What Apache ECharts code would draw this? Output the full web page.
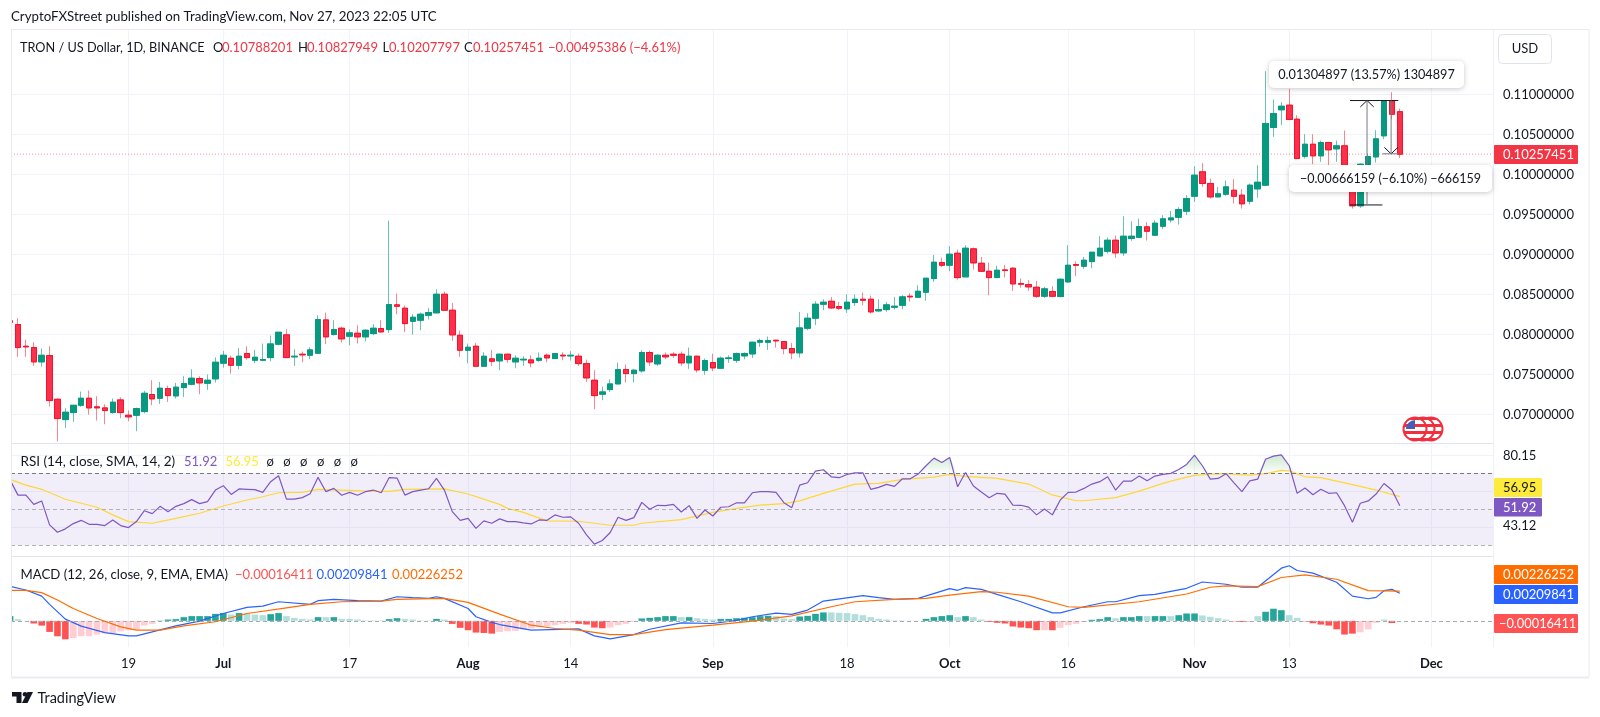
<!DOCTYPE html>
<html>
<head>
<meta charset="utf-8">
<title>TRON / US Dollar</title>
<style>html,body{margin:0;padding:0;background:#fff}#main{width:1600px;height:717px}</style>
<script src="https://cdn.jsdelivr.net/npm/echarts@6/dist/echarts.min.js"></script>
</head>
<body>
<div id="main"></div>
<script>
var myChart = echarts.init(document.getElementById('main'));
var FONT = 'Lato, "Noto Sans", sans-serif';

// one row per day from Jun 4 2023: open, high, low, close, in 1e-5 USD
var ohlc = [
[8173,8173,8156,8156],[8127,8206,7723,7839],[7856,7939,7723,7848],[7839,7906,7610,7660],[7660,7827,7602,7743],
[7739,7856,7102,7177],[7193,7202,6668,6952],[6939,7081,6835,7031],[7027,7118,6910,7118],[7118,7289,7098,7206],
[7206,7302,7002,7085],[7098,7231,6927,7085],[7085,7131,6881,7052],[7027,7202,7014,7156],[7185,7218,6956,7027],
[6993,7052,6918,6973],[6993,7089,6793,7077],[7039,7298,7018,7268],[7252,7431,7118,7198],[7206,7410,7135,7331],
[7327,7364,7160,7239],[7235,7398,7202,7344],[7339,7481,7222,7389],[7381,7568,7368,7456],[7452,7481,7256,7398],
[7393,7502,7310,7431],[7448,7718,7402,7656],[7644,7798,7589,7743],[7706,7739,7514,7618],[7618,7831,7568,7731],
[7764,7856,7689,7714],[7681,7810,7643,7718],[7681,7889,7673,7689],[7714,7989,7668,7885],[7881,8031,7868,8031],
[7998,8068,7710,7714],[7723,7818,7610,7731],[7756,7789,7656,7748],[7743,7843,7693,7810],[7768,8244,7760,8189],
[8185,8277,7881,7973],[8002,8181,7989,8064],[8081,8098,7902,7948],[7981,8068,7868,8023],[8018,8118,7889,7973],
[7973,8068,7918,8056],[8014,8131,7994,8081],[8077,8181,8027,8035],[8064,9427,8023,8377],[8373,8514,8256,8356],
[8331,8364,8031,8139],[8168,8256,8002,8218],[8181,8277,8056,8256],[8243,8335,8189,8277],[8273,8568,8273,8506],
[8506,8539,8298,8306],[8306,8398,7923,7998],[7993,8052,7723,7806],[7806,7889,7643,7843],[7856,7898,7606,7606],
[7606,7781,7602,7731],[7698,7810,7610,7668],[7673,7764,7556,7756],[7756,7764,7648,7693],[7660,7743,7581,7706],
[7685,7731,7610,7693],[7685,7743,7593,7648],[7681,7777,7660,7706],[7743,7764,7656,7710],[7702,7773,7698,7764],
[7743,7781,7681,7735],[7735,7793,7677,7743],[7731,7764,7610,7639],[7639,7689,7410,7460],[7431,7556,7068,7239],
[7256,7352,7181,7285],[7314,7443,7285,7385],[7385,7652,7381,7564],[7564,7627,7402,7514],[7514,7573,7402,7556],
[7548,7806,7527,7777],[7777,7802,7610,7660],[7635,7756,7610,7743],[7743,7777,7693,7723],[7756,7781,7710,7743],
[7756,7789,7610,7648],[7648,7839,7573,7731],[7731,7739,7527,7560],[7556,7702,7498,7677],[7652,7764,7543,7585],
[7581,7727,7577,7706],[7702,7743,7648,7710],[7681,7777,7648,7764],[7735,7781,7693,7764],[7760,7910,7710,7906],
[7906,7952,7848,7927],[7906,7977,7810,7927],[7931,7935,7839,7923],[7914,7923,7756,7827],[7827,7898,7693,7773],
[7773,8285,7714,8085],[8081,8269,8056,8206],[8206,8419,8119,8381],[8381,8443,8306,8406],[8418,8473,8323,8335],
[8352,8410,8306,8331],[8323,8506,8273,8406],[8402,8502,8360,8443],[8443,8527,8368,8431],[8443,8489,8264,8285],
[8298,8443,8285,8314],[8314,8410,8285,8373],[8343,8473,8314,8356],[8368,8493,8318,8473],[8481,8518,8414,8473],
[8468,8618,8468,8543],[8531,8710,8423,8706],[8702,8998,8660,8906],[8902,8964,8843,8868],[8868,9106,8793,9006],
[9018,9064,8689,8714],[8723,9118,8723,9081],[9073,9089,8814,8898],[8893,8973,8785,8793],[8793,8902,8493,8714],
[8714,8864,8714,8806],[8810,8873,8714,8802],[8831,8843,8548,8635],[8639,8702,8589,8631],[8627,8681,8548,8598],
[8593,8673,8460,8481],[8481,8598,8460,8573],[8539,8606,8473,8481],[8477,8702,8468,8693],[8660,9118,8652,8868],
[8877,8918,8731,8868],[8856,8973,8823,8931],[8914,9035,8831,9031],[8985,9231,8977,9081],[9043,9214,9014,9181],
[9181,9239,8960,9023],[9023,9481,8985,9231],[9202,9418,9173,9231],[9218,9452,9210,9352],[9348,9406,9177,9293],
[9244,9431,9235,9394],[9356,9494,9323,9448],[9435,9548,9402,9460],[9468,9594,9377,9564],[9544,9744,9494,9702],
[9731,10106,9661,9994],[10036,10144,9848,9890],[9890,9952,9702,9723],[9723,9848,9715,9761],[9756,9927,9736,9848],
[9806,9944,9640,9731],[9744,9819,9577,9636],[9669,9890,9627,9869],[9823,10119,9711,9906],[9869,11294,9861,10640],
[10590,10940,10473,10765],[10811,10906,10619,10856],[10869,11069,10681,10690],[10694,10744,10194,10202],[10231,10506,10202,10381],
[10381,10506,10131,10236],[10236,10427,10161,10402],[10402,10411,10119,10311],[10323,10427,10161,10361],[10361,10552,9973,9994],
[9994,10106,9577,9611],[9611,10140,9586,10131],[10127,10265,10036,10227],[10223,10556,10152,10448],[10486,10927,10444,10927],
[10923,11031,10694,10756],[10788,10828,10208,10257]
];

var rsi = [
66.1,57.8,57.8,52.7,54.6,41.4,37.3,39.2,42.1,43.9,41.7,41.7,41.0,44.1,41.0,39.9,43.2,49.2,47.6,51.6,
48.7,51.6,53.1,55.3,53.1,54.2,60.6,63.0,58.2,61.2,61.0,60.8,59.3,65.2,68.5,55.6,55.6,56.4,58.6,67.6,
59.7,61.5,57.7,59.3,57.7,59.7,60.6,59.1,67.4,67.2,57.8,59.7,60.6,61.3,67.0,60.6,48.7,43.9,45.0,39.5,
43.6,42.3,44.7,43.2,43.2,42.5,41.9,44.1,43.9,46.9,45.6,45.8,42.3,35.9,30.8,32.8,37.2,45.6,43.9,45.4,
53.8,50.0,52.2,52.0,52.7,48.5,52.0,45.0,49.6,46.3,51.1,51.4,53.6,53.5,59.1,59.7,59.7,59.3,53.6,50.9,
63.3,64.6,71.0,71.8,67.9,67.4,69.2,70.1,70.1,61.0,62.1,63.7,62.6,66.8,66.8,69.4,74.0,78.2,75.8,78.6,
62.4,70.3,62.8,59.5,56.4,58.8,58.4,52.3,52.2,51.2,46.9,50.2,46.9,55.1,59.3,59.5,61.5,63.9,65.2,67.9,
60.6,65.5,65.5,68.3,65.7,68.3,69.2,69.8,71.9,74.7,79.8,74.0,66.6,67.0,69.6,64.6,59.7,65.7,66.6,77.6,
79.3,80.0,74.0,58.8,61.7,58.0,61.0,58.8,59.1,52.0,42.8,53.3,54.6,58.4,64.2,60.6,51.92
];

// [day, value], day counted from Jun 5
var rsiMa = [
[-1,66.5],[1,63.3],[3,61.0],[6,55.5],[8,53.3],[10,51.1],[12,46.9],[14,43.2],[17,42.3],[20,45.0],[23,47.8],[26,51.8],
[29,55.1],[31,56.9],[33,59.1],[36,59.3],[38,61.0],[42,60.4],[44,60.0],[47,59.9],[49,61.0],[54,61.2],[57,58.4],[61,52.7],
[62,50.5],[64,48.3],[67,43.6],[71,43.4],[75,41.2],[78,41.2],[79,42.3],[84,44.3],[88,48.3],[91,50.5],[94,52.3],[97,53.1],
[99,54.6],[102,58.8],[106,63.9],[109,64.3],[112,66.5],[116,67.7],[118,69.2],[120,68.1],[124,67.0],[128,63.9],[131,57.9],
[134,54.7],[135,54.7],[139,56.4],[142,60.0],[145,64.3],[147,66.6],[149,68.7],[151,69.4],[153,69.6],[156,68.8],[158,69.7],
[160,71.4],[161,71.2],[163,67.9],[165,67.4],[170,62.6],[172,60.6],[175,56.95]
];

// MACD values in 1e-5
var macdLine = [
[-1,262],[1,234],[3,188],[4,125],[6,13],[8,-40],[11,-89],[14,-114],[15,-114],[17,-84],[20,-38],[23,-2],[26,56],[29,102],
[31,112],[33,145],[37,125],[38,153],[40,163],[43,153],[46,150],[48,183],[50,176],[52,171],[53,183],[54,171],[57,94],[58,31],
[60,-12],[61,-28],[65,-71],[71,-61],[73,-114],[75,-137],[78,-104],[80,-64],[84,-15],[88,-20],[91,3],[93,31],[96,59],[98,49],
[100,82],[102,150],[107,191],[109,176],[111,163],[114,171],[118,245],[119,232],[120,252],[122,239],[124,201],[127,145],
[131,61],[132,61],[135,107],[138,145],[139,145],[142,191],[144,201],[148,247],[150,295],[153,278],[155,255],[157,255],
[160,400],[161,418],[162,382],[164,362],[167,293],[169,188],[171,168],[172,178],[173,229],[174,239],[175,209.841]
];
var macdSignal = [
[-1,232],[1,232],[3,214],[5,158],[7,94],[10,18],[13,-46],[15,-71],[18,-71],[21,-38],[25,-7],[29,56],[34,99],[37,125],[41,145],
[46,150],[48,163],[54,171],[57,140],[61,51],[65,-33],[68,-58],[71,-71],[75,-104],[78,-104],[82,-66],[88,-33],[93,-2],[98,38],
[103,107],[106,145],[111,163],[115,171],[118,196],[122,222],[124,217],[128,188],[133,107],[135,102],[142,145],[148,204],
[151,255],[153,265],[157,260],[160,329],[163,349],[167,316],[171,229],[175,226.252]
];
var macdHist = [
36,13,1,-20,-36,-84,-117,-140,-130,-117,-117,-104,-94,-94,-79,-71,-66,-36,-23,2,10,13,28,36,36,36,53,59,48,59,
56,48,43,51,59,36,23,15,10,28,28,28,15,15,10,3,3,3,13,20,15,10,3,2,15,10,-23,-53,-71,-89,
-92,-97,-84,-79,-76,-64,-58,-46,-41,-33,-23,-15,-23,-28,-51,-56,-51,-33,-23,-8,18,23,28,36,36,28,28,20,15,10,
15,15,20,23,28,36,38,36,18,13,33,38,53,64,64,61,59,51,43,28,15,10,3,3,2,2,15,28,36,43,
28,36,28,10,-8,-15,-20,-43,-51,-56,-71,-71,-71,-53,-33,-23,-8,8,13,28,20,28,28,36,36,36,36,36,43,56,
56,41,31,20,10,-8,-8,-8,36,69,92,81,43,23,-10,-18,-28,-36,-64,-104,-97,-87,-64,-15,10,-16.411
];
// days whose histogram bar is drawn in the pale tone
var paleRanges = [[0,1],[7,17],[27,27],[29,31],[34,37],[39,39],[41,46],[49,52],[54,54],[61,70],[75,78],[84,84],[86,88],[96,98],
[103,114],[119,119],[121,122],[130,130],[132,135],[139,139],[143,143],[146,146],[150,154],[156,157],[161,163],[170,173]];

var DAY0 = Date.UTC(2023, 5, 5);
function day(i) { return DAY0 + i * 86400000; }
function isPale(i) {
    return paleRanges.some(function (r) { return i >= r[0] && i <= r[1]; });
}
function pairs(list, scale) {
    return list.map(function (p) { return [day(p[0]), p[1] * scale]; });
}

var candleFull = ohlc.map(function (r, k) {
    return [day(k - 1), r[0] / 1e5, r[3] / 1e5, r[2] / 1e5, r[1] / 1e5];
});
var candleBody = ohlc.map(function (r, k) {
    var lo = Math.min(r[0], r[3]), hi = Math.max(r[0], r[3]);
    return [day(k - 1), r[0] / 1e5, r[3] / 1e5, lo / 1e5, hi / 1e5];
});
var rsiData = rsi.map(function (v, k) { return [day(k - 1), v]; });
var rsiOver = rsi.map(function (v, k) { return [day(k - 1), Math.max(v, 70)]; });
var histData = macdHist.map(function (v, k) {
    var pale = isPale(k - 1);
    var c = v >= 0 ? (pale ? '#b2dfdb' : '#26a69a') : (pale ? '#ffcdd2' : '#ff5252');
    return { value: [day(k - 1), v / 1e5], itemStyle: { color: c } };
});

var xTicks = [
    [2023, 5, 19, '19'], [2023, 6, 1, 'Jul'], [2023, 6, 17, '17'], [2023, 7, 1, 'Aug'], [2023, 7, 14, '14'], [2023, 8, 1, 'Sep'],
    [2023, 8, 18, '18'], [2023, 9, 1, 'Oct'], [2023, 9, 16, '16'], [2023, 10, 1, 'Nov'], [2023, 10, 13, '13'], [2023, 11, 1, 'Dec']
];
var xValues = xTicks.map(function (t) { return Date.UTC(t[0], t[1], t[2]); });
var xNames = {};
xTicks.forEach(function (t, k) { xNames[xValues[k]] = t[3]; });

var PLOT_L = 11, PLOT_R = 1493;
var xMin = day((PLOT_L - 18) / 7.896), xMax = day((PLOT_R - 18) / 7.896);
var GRID_LINE = '#f0f3fa';

function xAxis(gridIndex, withLabels) {
    return {
        type: 'value', gridIndex: gridIndex, min: xMin, max: xMax, scale: true,
        axisLine: { show: false },
        axisTick: { show: false, customValues: xValues },
        splitLine: { show: true, lineStyle: { color: GRID_LINE, width: 1 } },
        axisLabel: withLabels ? {
            show: true, customValues: xValues, margin: 10, color: '#131722', fontFamily: FONT, fontSize: 13,
            hideOverlap: false, showMinLabel: true, showMaxLabel: true,
            formatter: function (v) {
                var s = xNames[v] || '';
                return /[a-z]/.test(s) ? '{m|' + s + '}' : s;
            },
            rich: { m: { fontWeight: 'bold', color: '#131722', fontFamily: FONT, fontSize: 13 } }
        } : { show: false }
    };
}

// drawing tools, price and day coordinates
var TOP = 0.10927, LOW = 0.09622, END = 0.10261;
function seg(d1, p1, d2, p2) {
    return [[day(d1), p1], [day(d2), p2]];
}
function toolSeries(list, color) {
    return list.map(function (pts) {
        return {
            type: 'line', name: 'tool', xAxisIndex: 0, yAxisIndex: 0, showSymbol: false, z: 6, silent: true,
            lineStyle: { color: color, width: 1 }, data: pts
        };
    });
}
var toolDark = [
    seg(168.7, TOP, 174.8, TOP),
    seg(168.7, LOW, 172.8, LOW),
    seg(170.85, TOP, 170.0, TOP - 0.0008),
    seg(170.85, TOP, 171.7, TOP - 0.0008),
    seg(173.9, END, 173.05, END + 0.0008),
    seg(173.9, END, 174.75, END + 0.0008)
];
var toolGrey = [
    seg(172.8, END, 174.8, END),
    seg(170.85, LOW, 170.85, TOP),
    seg(173.9, TOP, 173.9, END)
];

// static page furniture
var gfx = [];
function text(x, y, str, color, size, weight, align) {
    gfx.push({
        type: 'text', x: x, y: y, z: 100, silent: true,
        style: {
            text: str, fill: color,
            font: (weight || 'normal') + ' ' + (size || 13) + 'px ' + FONT,
            textAlign: align || 'left', textVerticalAlign: 'middle'
        }
    });
}
function rule(x1, y1, x2, y2, color, width, z) {
    gfx.push({
        type: 'line', z: z || 5, silent: true, shape: { x1: x1, y1: y1, x2: x2, y2: y2 },
        style: { stroke: color, lineWidth: width || 1 }
    });
}
function tag(y, h, w, bg, fg, str, tx, size) {
    gfx.push({ type: 'rect', z: 90, silent: true, shape: { x: 1494, y: y, width: w, height: h, r: 1 }, style: { fill: bg } });
    text(tx || 1503, y + h / 2 + 0.5, str, fg, size || 13);
}
function tip(x, y, w, h, str, size) {
    gfx.push({
        type: 'rect', z: 95, silent: true, shape: { x: x, y: y, width: w, height: h, r: 5 },
        style: { fill: '#fff', shadowBlur: 5, shadowColor: 'rgba(0,0,0,0.22)', shadowOffsetY: 1 }
    });
    text(x + w / 2, y + h / 2, str, '#131722', size, 'normal', 'center');
}
function flag(cx, cy, z) {
    var stops = [], n = 7;
    for (var s = 0; s < n; s++) {
        var c = s % 2 ? '#ffffff' : '#f0303f';
        stops.push({ offset: s / n, color: c }, { offset: (s + 1) / n, color: c });
    }
    gfx.push({
        type: 'circle', z: z, silent: true, shape: { cx: cx, cy: cy, r: 11.5 },
        style: { fill: new echarts.graphic.LinearGradient(0, 0, 0, 1, stops), stroke: '#f0303f', lineWidth: 2 }
    });
    gfx.push({
        type: 'sector', z: z + 1, silent: true, shape: { cx: cx, cy: cy, r: 9, r0: 0, startAngle: Math.PI, endAngle: Math.PI * 1.5 },
        style: { fill: '#4a5bb5' }
    });
}

// candle and bar of the first, cut off day stop at the frame
gfx.push({ type: 'rect', z: 70, silent: true, shape: { x: 0, y: 29, width: 11, height: 620 }, style: { fill: '#fff' } });

rule(11, 29.5, 1589, 29.5, '#e9e8f4');
rule(11.5, 29, 11.5, 677, '#e9e8f4', 1, 80);
rule(1589, 29, 1589, 677, '#e9e8f4');
rule(11, 677.5, 1589, 677.5, '#ecebf5', 2);
rule(11, 443.5, 1493, 443.5, '#e4e2f2');
rule(11, 556.5, 1493, 556.5, '#e4e2f2');
rule(1493.5, 29, 1493.5, 647, '#f0eff8');

text(11, 17, 'CryptoFXStreet published on TradingView.com, Nov 27, 2023 22:05 UTC', '#131722', 13.3);

text(20, 48, 'TRON / US Dollar, 1D, BINANCE', '#131722', 12.7);
text(213, 48, 'O', '#131722', 13);
text(222, 48, '0.10788201', '#f23645', 13);
text(298, 48, 'H', '#131722', 13);
text(307, 48, '0.10827949', '#f23645', 13);
text(382.5, 48, 'L', '#131722', 13);
text(389, 48, '0.10207797', '#f23645', 13);
text(464, 48, 'C', '#131722', 13);
text(473, 48, '0.10257451', '#f23645', 13);
text(548, 48, '\u22120.00495386 (\u22124.61%)', '#f23645', 13);

text(20.5, 461.5, 'RSI (14, close, SMA, 14, 2)', '#131722', 13.5);
text(184, 461.5, '51.92', '#7e57c2', 13);
text(225.5, 461.5, '56.95', '#ffeb3b', 13);
for (var n = 0; n < 6; n++) {
    text(266.5 + n * 16.8, 461.5, '\u00f8', '#131722', 13);
}

text(20.5, 575, 'MACD (12, 26, close, 9, EMA, EMA)', '#131722', 13.2);
text(235, 575, '\u22120.00016411', '#ff5252', 13);
text(316.5, 575, '0.00209841', '#2962ff', 13);
text(392, 575, '0.00226252', '#ff6d00', 13);

gfx.push({
    type: 'rect', z: 20, silent: true, shape: { x: 1498.5, y: 34.5, width: 53, height: 29, r: 4 },
    style: { fill: '#fff', stroke: '#e0e3eb', lineWidth: 1 }
});
text(1525, 49, 'USD', '#131722', 13, 'normal', 'center');

tag(145, 19, 84, '#f23645', '#ffffff', '0.10257451');
text(1503, 455.5, '80.15', '#131722', 13);
text(1503, 526, '43.12', '#131722', 13);
tag(478, 19, 48, '#ffeb3b', '#131722', '56.95');
tag(498, 18.5, 48, '#7e57c2', '#ffffff', '51.92');
tag(565, 19, 84, '#ff6d00', '#ffffff', '0.00226252');
tag(585, 19, 84, '#2962ff', '#ffffff', '0.00209841');
tag(614, 19, 84, '#ff5252', '#ffffff', '\u22120.00016411', 1499, 12.8);

tip(1269, 61, 195, 27, '0.01304897 (13.57%) 1304897', 12.7);
tip(1289, 165, 203, 27, '\u22120.00666159 (\u22126.10%) \u2212666159', 12.5);

flag(1431, 429, 60);
flag(1423, 429, 62);
flag(1415, 429, 64);

// logo
gfx.push({
    type: 'polygon', z: 50, silent: true,
    shape: { points: [[12, 692], [21.5, 692], [21.5, 703], [16.5, 703], [16.5, 696.5], [12, 696.5]] },
    style: { fill: '#131722' }
});
gfx.push({ type: 'circle', z: 50, silent: true, shape: { cx: 25, cy: 694.3, r: 2.3 }, style: { fill: '#131722' } });
gfx.push({
    type: 'polygon', z: 50, silent: true,
    shape: { points: [[27.5, 692], [33, 692], [27.5, 703], [22, 703]] },
    style: { fill: '#131722' }
});
text(37.5, 698, 'TradingView', '#131722', 14.5);

option = {
    animation: false,
    backgroundColor: '#ffffff',
    textStyle: { fontFamily: FONT },
    graphic: { elements: gfx },
    grid: [
        { left: PLOT_L, right: 1600 - PLOT_R, top: 29.5, height: 414, containLabel: false },
        { left: PLOT_L, right: 1600 - PLOT_R, top: 443.5, height: 113, containLabel: false },
        { left: PLOT_L, right: 1600 - PLOT_R, top: 556.5, height: 90.5, containLabel: false }
    ],
    xAxis: [xAxis(0, false), xAxis(1, false), xAxis(2, true)],
    yAxis: [
        {
            type: 'value', gridIndex: 0, position: 'right', min: 0.0664, max: 0.11815, scale: true,
            axisLine: { show: false },
            axisTick: { show: false, customValues: [0.07, 0.075, 0.08, 0.085, 0.09, 0.095, 0.1, 0.105, 0.11] },
            splitLine: { show: true, lineStyle: { color: GRID_LINE, width: 1 } },
            axisLabel: {
                customValues: [0.07, 0.075, 0.08, 0.085, 0.09, 0.095, 0.1, 0.105, 0.11],
                margin: 10, color: '#131722', fontFamily: FONT, fontSize: 13,
                formatter: function (v) { return v.toFixed(8); }
            }
        },
        {
            type: 'value', gridIndex: 1, position: 'right', min: 23.96, max: 86.26, scale: true,
            axisLine: { show: false },
            axisTick: { show: false, customValues: [40, 60, 80] },
            splitLine: { show: true, lineStyle: { color: GRID_LINE, width: 1 } },
            axisLabel: { show: false }
        },
        {
            type: 'value', gridIndex: 2, position: 'right', min: -0.001985, max: 0.004885, scale: true,
            axisLine: { show: false }, axisTick: { show: false }, splitLine: { show: false }, axisLabel: { show: false }
        }
    ],
    series: [
        {
            // wicks
            type: 'candlestick', name: 'wick', xAxisIndex: 0, yAxisIndex: 0, barWidth: 6, z: 3, silent: true,
            encode: { x: 0, y: [1, 2, 3, 4] },
            itemStyle: {
                color: '#089981', color0: '#f7324a',
                borderColor: 'rgba(8,153,129,0.6)', borderColor0: 'rgba(242,54,69,0.6)',
                borderColorDoji: 'rgba(242,54,69,0.6)', borderWidth: 1
            },
            data: candleFull
        },
        {
            type: 'candlestick', name: 'body', xAxisIndex: 0, yAxisIndex: 0, barWidth: 6, z: 4, silent: true,
            encode: { x: 0, y: [1, 2, 3, 4] },
            itemStyle: {
                color: '#089981', color0: '#f7324a',
                borderColor: '#089981', borderColor0: '#fb0f2a', borderColorDoji: '#fb0f2a', borderWidth: 1
            },
            data: candleBody
        },
        {
            // last price
            type: 'line', name: 'last', xAxisIndex: 0, yAxisIndex: 0, showSymbol: false, z: 2, silent: true,
            lineStyle: { color: '#f4919a', type: [1, 2], width: 1 },
            data: [[xMin, 0.10257451], [xMax, 0.10257451]]
        },
        {
            type: 'line', name: 'RSI', xAxisIndex: 1, yAxisIndex: 1, showSymbol: false, z: 5,
            lineStyle: { color: '#7e57c2', width: 1.2 }, data: rsiData,
            markArea: {
                silent: true, itemStyle: { color: 'rgba(126,87,194,0.1)' },
                data: [[{ yAxis: 30 }, { yAxis: 70 }]]
            },
            markLine: {
                silent: true, symbol: 'none', animation: false, label: { show: false },
                data: [
                    { yAxis: 70, lineStyle: { color: '#787b86', type: [4, 3], width: 1 } },
                    { yAxis: 50, lineStyle: { color: '#b0b2ba', type: [4, 3], width: 1 } },
                    { yAxis: 30, lineStyle: { color: '#b0b2ba', type: [4, 3], width: 1 } }
                ]
            }
        },
        {
            type: 'line', name: 'overbought', xAxisIndex: 1, yAxisIndex: 1, showSymbol: false, z: 2, silent: true,
            lineStyle: { width: 0 }, data: rsiOver,
            areaStyle: {
                origin: 70, opacity: 1,
                color: new echarts.graphic.LinearGradient(0, 0, 0, 1, [
                    { offset: 0, color: 'rgba(76,175,80,0.28)' },
                    { offset: 1, color: 'rgba(76,175,80,0.02)' }
                ])
            }
        },
        {
            type: 'line', name: 'RSI MA', xAxisIndex: 1, yAxisIndex: 1, showSymbol: false, z: 4,
            lineStyle: { color: '#fdd835', width: 1.2 }, data: pairs(rsiMa, 1)
        },
        {
            type: 'bar', name: 'Histogram', xAxisIndex: 2, yAxisIndex: 2, barWidth: 6.6, z: 2,
            data: histData,
            markLine: {
                silent: true, symbol: 'none', animation: false, label: { show: false },
                data: [{ yAxis: 0, lineStyle: { color: '#a9abb3', type: [4, 3], width: 1 } }]
            }
        },
        {
            type: 'line', name: 'MACD', xAxisIndex: 2, yAxisIndex: 2, showSymbol: false, z: 4,
            lineStyle: { color: '#2962ff', width: 1.2 }, data: pairs(macdLine, 1e-5)
        },
        {
            type: 'line', name: 'Signal', xAxisIndex: 2, yAxisIndex: 2, showSymbol: false, z: 5,
            lineStyle: { color: '#ff6d00', width: 1.2 }, data: pairs(macdSignal, 1e-5)
        }
    ].concat(toolSeries(toolDark, '#131722'), toolSeries(toolGrey, '#787b86'))
};
myChart.setOption(option);
</script>
</body>
</html>
